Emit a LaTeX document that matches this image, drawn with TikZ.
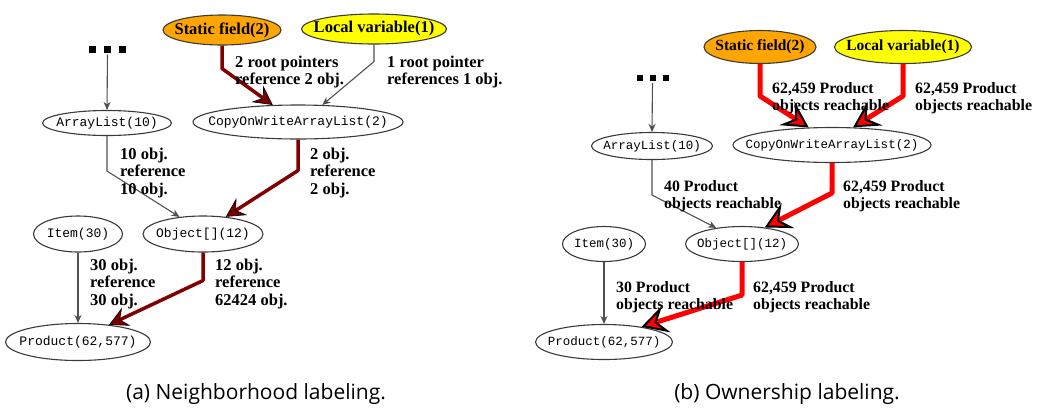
\documentclass[tikz,border=0pt]{standalone}
\usepackage{fontspec}
\setmainfont{Liberation Serif}
\setmonofont{Liberation Mono}
\setsansfont{Open Sans}
\usetikzlibrary{arrows.meta,shapes.geometric}
\definecolor{objred}{HTML}{800000}
\definecolor{rootorange}{HTML}{FFA500}
\definecolor{rootyellow}{HTML}{FFFF00}
\definecolor{edgegray}{HTML}{505050}
\definecolor{nodegray}{HTML}{3A3A3A}
\newcommand{\objtxt}[1]{\makebox[0pt]{#1}}

\begin{document}
\begin{tikzpicture}[
  x=1pt,y=-1pt,
  obj/.style 2 args={ellipse,draw=nodegray,line width=1.1pt,inner sep=0pt,minimum width=#1,minimum height=#2},
  root/.style={obj={#1}{30pt},font=\fontsize{16.5}{18}\selectfont\bfseries},
  dots/.style={inner sep=0pt,fill=none},
  lbl/.style={anchor=west,align=left,inner sep=0pt},
  ptr/.style={draw=edgegray,line width=1.1pt,-{Stealth[length=8pt,width=7pt,inset=2.5pt]}},
  hot/.style={draw=objred,line width=3.5pt,line join=round,-{Stealth[length=19pt,width=20pt,inset=7pt,line width=0.7pt,fill=objred,color=black]}},
  own/.style={draw=red,line width=5pt,line join=round,-{Stealth[length=26pt,width=28pt,inset=10pt,line width=2pt,fill=red,color=black]}},
  capt/.style={font=\sffamily\fontsize{21}{24}\selectfont}
]
\useasboundingbox (0,0) rectangle (1040,408);

% (a) neighborhood labeling
\begin{scope}[every node/.append style={font=\fontsize{16.5}{17.5}\selectfont\bfseries},
  mono/.style={font=\fontsize{13}{14}\selectfont\ttfamily}]
\node[root=118pt,fill=rootorange] (sfa) at (222,30) {\objtxt{Static field(2)}};
\node[root=145pt,fill=rootyellow] (lva) at (374,29) {\objtxt{Local variable(1)}};
\node[dots] (dta) at (107.5,49) {\rule{7pt}{7pt}\hspace{8pt}\rule{7pt}{7pt}\hspace{8pt}\rule{7pt}{7pt}};
\node[obj={129pt}{25pt},mono] (ala) at (107,123) {\objtxt{ArrayList(10)}};
\node[obj={210pt}{34pt},mono] (cwa) at (298,122) {\objtxt{CopyOnWriteArrayList(2)}};
\node[obj={89pt}{36pt},mono] (ita) at (78,234) {\objtxt{Item(30)}};
\node[obj={120pt}{36pt},mono] (oba) at (203,234) {\objtxt{Object[](12)}};
\node[obj={145pt}{37pt},mono] (pra) at (78,342) {\objtxt{Product(62,577)}};

\draw[hot] (sfa.south) -- ++(0,23) -- (cwa.146);
\draw[ptr] (lva.south) -- ++(0,17) -- (cwa.35);
\draw[ptr,shorten <=2pt] (dta.south) -- (ala.north);
\draw[ptr] (ala.south) -- ++(0,35) -- (oba.144);
\draw[hot] (cwa.south) -- ++(0,31) -- (oba.37);
\draw[ptr] (ita.south) -- (pra.north);
\draw[hot] (oba.south) -- ++(0,28) -- (pra.29);

\node[lbl] (la1) at (235,72) {2 root pointers\\reference 2 obj.};
\node[lbl] (la2) at (387,72) {1 root pointer\\references 1 obj.};
\node[lbl] (la3) at (120,173) {10 obj.\\reference\\10 obj.};
\node[lbl] (la4) at (310,173) {2 obj.\\reference\\2 obj.};
\node[lbl] (la5) at (90,284) {30 obj.\\reference\\30 obj.};
\node[lbl] (la6) at (215,284) {12 obj.\\reference\\62424 obj.};
\end{scope}
\node[capt] (capa) at (256,394) {(a) Neighborhood labeling.};

% (b) ownership labeling
\begin{scope}[every node/.append style={font=\fontsize{15.8}{16.5}\selectfont\bfseries},
  mono/.style={font=\fontsize{12.5}{13}\selectfont\ttfamily}]
\node[root=112pt,minimum height=33pt,fill=rootorange,font=\fontsize{15.5}{17}\selectfont\bfseries] (sfb) at (760,47) {\objtxt{Static field(2)}};
\node[root=137pt,minimum height=33pt,fill=rootyellow,font=\fontsize{15.5}{17}\selectfont\bfseries] (lvb) at (903,47) {\objtxt{Local variable(1)}};
\node[dots] (dtb) at (652.5,78) {\rule{6pt}{6pt}\hspace{7pt}\rule{6pt}{6pt}\hspace{7pt}\rule{6pt}{6pt}};
\node[obj={121pt}{27pt},mono] (alb) at (652,146) {\objtxt{ArrayList(10)}};
\node[obj={198pt}{35pt},mono] (cwb) at (832,145) {\objtxt{CopyOnWriteArrayList(2)}};
\node[obj={83pt}{35pt},mono] (itb) at (604,244) {\objtxt{Item(30)}};
\node[obj={113pt}{35pt},mono] (obb) at (742,244) {\objtxt{Object[](12)}};
\node[obj={137pt}{35pt},mono] (prb) at (604,342) {\objtxt{Product(62,577)}};

\draw[own] (sfb.south) -- ++(0,32) -- (cwb.143);
\draw[own] (lvb.south) -- ++(0,32) -- (cwb.40);
\draw[ptr,shorten <=2pt] (dtb.south) -- (alb.north);
\draw[ptr] (alb.south) -- ++(0,35) -- (obb.148);
\draw[own] (cwb.south) -- ++(0,30) -- (obb.36);
\draw[ptr] (itb.south) -- (prb.north);
\draw[own] (obb.south) -- ++(0,33) -- (prb.22);

\node[lbl] (lb1) at (772,98) {62,459 Product\\objects reachable};
\node[lbl] (lb2) at (915,98) {62,459 Product\\objects reachable};
\node[lbl] (lb3) at (664,196) {40 Product\\objects reachable};
\node[lbl] (lb4) at (843,196) {62,459 Product\\objects reachable};
\node[lbl] (lb5) at (616,297) {30 Product\\objects reachable};
\node[lbl] (lb6) at (753,297) {62,459 Product\\objects reachable};
\end{scope}
\node[capt] (capb) at (787,394) {(b) Ownership labeling.};
\end{tikzpicture}
\end{document}
